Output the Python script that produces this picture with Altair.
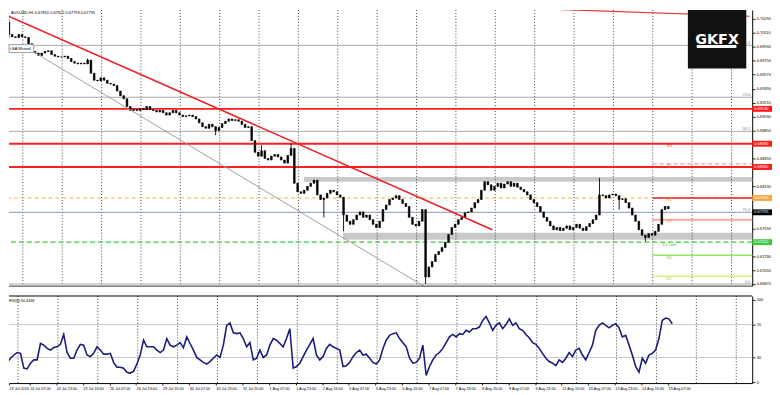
import json
import altair as alt
import pandas as pd

# ---------------- data ----------------
# AUDUSD H1, one value per 2 hourly bars, starting 23 Jul 15:00
closes = [
    0.7009, 0.7006, 0.7005, 0.7009, 0.7006, 0.7005, 0.6997, 0.6987, 0.6985, 0.6982,
    0.6985, 0.6987, 0.6988, 0.6983, 0.6981, 0.6980, 0.6980, 0.6981, 0.6978, 0.6974,
    0.6972, 0.6971, 0.6972, 0.6971, 0.6976, 0.6959, 0.6950, 0.6949, 0.6953, 0.6950,
    0.6946, 0.6945, 0.6943, 0.6936, 0.6930, 0.6926, 0.6916, 0.6911, 0.6912, 0.6911,
    0.6913, 0.6912, 0.6916, 0.6912, 0.6911, 0.6909, 0.6911, 0.6908, 0.6905, 0.6908,
    0.6911, 0.6908, 0.6905, 0.6903, 0.6904, 0.6905, 0.6903, 0.6900, 0.6895, 0.6890,
    0.6888, 0.6893, 0.6890, 0.6885, 0.6889, 0.6894, 0.6897, 0.6900, 0.6898, 0.6899,
    0.6897, 0.6893, 0.6889, 0.6890, 0.6872, 0.6857, 0.6852, 0.6859, 0.6849, 0.6847,
    0.6852, 0.6854, 0.6851, 0.6847, 0.6843, 0.6853, 0.6862, 0.6817, 0.6806, 0.6804,
    0.6808, 0.6813, 0.6817, 0.6821, 0.6802, 0.6796, 0.6798, 0.6804, 0.6808, 0.6806,
    0.6802, 0.6799, 0.6776, 0.6768, 0.6764, 0.6770, 0.6776, 0.6780, 0.6773, 0.6776,
    0.6770, 0.6764, 0.6760, 0.6768, 0.6783, 0.6789, 0.6796, 0.6798, 0.6801, 0.6796,
    0.6791, 0.6787, 0.6773, 0.6764, 0.6762, 0.6768, 0.6783, 0.6696, 0.6709, 0.6716,
    0.6725, 0.6729, 0.6734, 0.6741, 0.6751, 0.6760, 0.6764, 0.6770, 0.6773, 0.6779,
    0.6780, 0.6785, 0.6792, 0.6796, 0.6808, 0.6819, 0.6815, 0.6808, 0.6813, 0.6817,
    0.6811, 0.6816, 0.6819, 0.6813, 0.6817, 0.6812, 0.6809, 0.6806, 0.6802, 0.6796,
    0.6792, 0.6787, 0.6780, 0.6773, 0.6768, 0.6762, 0.6757, 0.6760, 0.6756, 0.6759,
    0.6762, 0.6757, 0.6760, 0.6764, 0.6759, 0.6756, 0.6761, 0.6765, 0.6770, 0.6776,
    0.6802, 0.6801, 0.6798, 0.6802, 0.6803, 0.6801, 0.6796, 0.6797, 0.6792, 0.6785,
    0.6776, 0.6768, 0.6757, 0.6750, 0.6747, 0.6752, 0.6750, 0.6755, 0.6764, 0.6783,
    0.6787, 0.6784,
]
first_open = 0.7025
wick_hi = {0: 0.7029, 24: 0.6978, 77: 0.6866, 86: 0.6868, 180: 0.6824}
wick_lo = {0: 0.7004, 63: 0.6879, 96: 0.6773, 102: 0.6755, 127: 0.6687,
           186: 0.6783, 194: 0.6742}

rsi8 = [
    42, 24, 29, 33, 36, 35, 17, 16, 23, 27,
    27, 47, 45, 41, 39, 42, 43, 46, 58, 36,
    29, 29, 39, 46, 45, 33, 31, 35, 43, 39,
    34, 34, 35, 24, 18, 18, 17, 12, 11, 13,
    22, 33, 51, 43, 43, 43, 39, 36, 39, 53,
    45, 43, 45, 48, 42, 55, 47, 39, 30, 27,
    24, 22, 25, 29, 33, 30, 45, 69, 72, 60,
    59, 60, 53, 43, 48, 27, 29, 39, 30, 33,
    45, 53, 51, 47, 43, 53, 65, 17, 19, 23,
    31, 39, 46, 53, 33, 27, 31, 41, 46, 43,
    41, 39, 19, 20, 24, 31, 36, 39, 33, 34,
    29, 24, 22, 27, 41, 51, 57, 59, 60, 53,
    48, 43, 29, 23, 24, 29, 45, 8, 19, 27,
    33, 36, 41, 48, 55, 58, 55, 59, 58, 63,
    61, 65, 65, 67, 75, 80, 72, 63, 69, 72,
    65, 70, 77, 69, 72, 65, 63, 58, 54, 48,
    46, 41, 35, 29, 25, 23, 20, 27, 24, 29,
    36, 31, 39, 41, 33, 27, 36, 45, 63, 69,
    72, 69, 66, 69, 71, 66, 55, 57, 45, 33,
    19, 12, 29, 23, 33, 35, 39, 53, 75, 78,
    77, 71,
]

time_labels = ["23 Jul 2019", "24 Jul 07:00", "24 Jul 23:00", "25 Jul 15:00",
               "26 Jul 07:00", "26 Jul 23:00", "29 Jul 15:00", "30 Jul 07:00",
               "30 Jul 23:00", "31 Jul 15:00", "1 Aug 07:00", "1 Aug 23:00",
               "2 Aug 15:00", "5 Aug 07:00", "5 Aug 23:00", "6 Aug 15:00",
               "7 Aug 07:00", "7 Aug 23:00", "8 Aug 15:00", "9 Aug 07:00",
               "9 Aug 23:00", "12 Aug 15:00", "13 Aug 07:00", "13 Aug 23:00",
               "14 Aug 15:00", "15 Aug 07:00"]
# price scale labels (those hidden behind the coloured level boxes are left out)
price_ticks = [0.70290, 0.70110, 0.69930, 0.69750, 0.69570, 0.69390, 0.69210,
               0.69030, 0.68850, 0.68490, 0.68130,
               0.67590, 0.67230, 0.67050, 0.66870]
rsi_ticks = [0, 30, 70, 100]
rsi_levels = [30, 70]

red_levels = [0.6913, 0.6868, 0.6838]
fib_levels = [0.6995, 0.6928, 0.6884, 0.6687]
fib_texts = ["0.0", "23.6", "38.2", "0.0"]
bid = 0.67795
orange_level = 0.6798
green_level = 0.6741
day_starts = [9, 33, 57, 81, 105, 129, 153, 177, 201, 225, 249, 273, 297,
              321, 345, 369, 393, 417, 441]
zone_start = [180.4, 204.2]
zone_low = [0.6819, 0.6744]
zone_high = [0.6825, 0.6753]
trend_red = {"i": [0, 295.2], "p": [0.7033, 0.6757]}
trend_gray = {"i": [12, 253.6], "p": [0.6991, 0.6684]}
trend_top = {"i": [246, 452], "p": [0.7048, 0.70325]}
pivot_start = 393
pivot_names = ["R2", "R1", "PP", "S1", "S2"]
pivot_prices = [0.6842, 0.6798, 0.6770, 0.6724, 0.6697]
pivot_label_names = ["R3", "R2", "R1", "PP", "D1 Low", "S1", "S2"]
pivot_label_prices = [0.6868, 0.6842, 0.6798, 0.6770, 0.6741, 0.6724, 0.6697]
box_prices = [0.6913, 0.6868, 0.6838, 0.6798, 0.67795, 0.6741]
title_text = "AUDUSD,H1  0.67810 0.67822 0.67793 0.67795"
rsi_title = "RSI(8) 66.4438"

# ---------------- layout / styles ----------------
W, HM, HR = 751, 279, 88
X0, X1 = 3.571, 450.6
P0, P1 = 0.66843, 0.70406
Q0, Q1 = -1.2, 104.8
FONT = "Liberation Sans"

xs = alt.Scale(domain=[X0, X1], nice=False, zero=False)
ys = alt.Scale(domain=[P0, P1], nice=False, zero=False)
rs = alt.Scale(domain=[Q0, Q1], nice=False, zero=False)

yax = alt.Axis(orient="right", values=price_ticks, format=".5f", labelFontSize=4,
               labelFont=FONT, labelColor="#000", tickSize=3, tickColor="#000",
               tickWidth=0.8, domainColor="#000", domainWidth=1, labelPadding=1,
               title=None, grid=False, labelOverlap=False, labelBound=False,
               labelFlush=False, zindex=0)
rax = alt.Axis(orient="right", values=rsi_ticks, labelFontSize=4, labelFont=FONT,
               labelColor="#000", tickSize=3, tickColor="#000", tickWidth=0.8,
               domainColor="#000", domainWidth=1, labelPadding=1, title=None,
               grid=False, labelOverlap=False, labelFlush=False, zindex=0)
label_expr = json.dumps(time_labels) + "[floor(datum.value / 16)]"
xax = alt.Axis(values=[X0] + [16 * k for k in range(1, len(time_labels))],
               labelExpr=label_expr, labelAlign="left", labelBaseline="top",
               labelFontSize=3.8, labelFont=FONT, labelColor="#000", labelPadding=1,
               tickSize=2, tickColor="#000", tickWidth=0.8, domainColor="#000",
               domainWidth=1, title=None, grid=False, labelOverlap=False,
               labelFlush=False, labelBound=False, zindex=0)


def XM(f):
    return alt.X(f, type="quantitative", scale=xs, axis=None)


def XR(f):
    return alt.X(f, type="quantitative", scale=xs, axis=xax)


def YM(f):
    return alt.Y(f, type="quantitative", scale=ys, axis=yax)


def YR(f):
    return alt.Y(f, type="quantitative", scale=rs, axis=rax)


# ---------------- data frames ----------------
n = len(closes)
opens = [first_open] + closes[:-1]
candles = pd.DataFrame({
    "i": [2 * g + 0.5 for g in range(n)],
    "o": opens,
    "c": closes,
})
candles["top"] = candles[["o", "c"]].max(axis=1)
candles["bot"] = candles[["o", "c"]].min(axis=1)
candles["hi"] = [max(t, wick_hi.get(g, t)) for g, t in enumerate(candles["top"])]
candles["lo"] = [min(b, wick_lo.get(g, b)) for g, b in enumerate(candles["bot"])]

rsi_df = pd.DataFrame({"i": [2 * g + 0.5 for g in range(len(rsi8))], "r": rsi8})
days_df = pd.DataFrame({"i": day_starts})
zones_df = pd.DataFrame({"i0": zone_start, "i1": [X1 + 5] * 2,
                         "p0": zone_low, "p1": zone_high})
one = pd.DataFrame({"a": [0]})


def hline(price, color, width, dash=None):
    kw = dict(color=color, strokeWidth=width, clip=True)
    if dash:
        kw["strokeDash"] = dash
    return alt.Chart(pd.DataFrame({"p": price if isinstance(price, list) else [price]})
                     ).mark_rule(**kw).encode(y=YM("p"))


def tline(d, color, width):
    return alt.Chart(pd.DataFrame(d)).mark_line(color=color, strokeWidth=width,
                                                clip=True).encode(x=XM("i"), y=YM("p"))


zones = alt.Chart(zones_df).mark_rect(color="#c9c9c9", clip=True).encode(
    x=XM("i0"), x2="i1:Q", y=YM("p0"), y2="p1:Q")
grid_m = alt.Chart(days_df).mark_rule(color="#444", strokeDash=[1, 2],
                                      strokeWidth=1, clip=True).encode(x=XM("i"))
fibs = hline(fib_levels, "#a9a9a9", 1)
fib_txt = alt.Chart(pd.DataFrame({"p": fib_levels + [bid], "t": fib_texts + ["76.4"]})
                    ).mark_text(align="right", baseline="bottom", dy=-0.5, fontSize=4,
                                font=FONT, color="#888", clip=True).encode(
    x=alt.value(W - 2), y=YM("p"), text="t:N")
bid_line = hline(bid, "#8a9aaa", 1)
orange_l = hline(orange_level, "#f6b24a", 1.2, [4, 3])
green_l = hline(green_level, "#3cc83c", 1.2, [5, 3])
red_l = hline(red_levels, "#ff1f1f", 2)

piv_df = pd.DataFrame({"i0": [pivot_start] * len(pivot_names), "i1": [X1 + 5] * len(pivot_names),
                       "p": pivot_prices, "name": pivot_names,
                       "col": ["#f0a0a8", "#e8202a", "#f8a898", "#90e860", "#c8e850"],
                       "w": [1.2, 1.5, 2, 1.5, 1.2]})
piv_dash = alt.Chart(piv_df[piv_df["name"] == "R2"]).mark_rule(
    strokeDash=[4, 3], clip=True, strokeWidth=1.2, color="#f0a0a8").encode(
    x=XM("i0"), x2="i1:Q", y=YM("p"))
piv_solid = alt.Chart(piv_df[piv_df["name"] != "R2"]).mark_rule(clip=True).encode(
    x=XM("i0"), x2="i1:Q", y=YM("p"),
    color=alt.Color("col:N", scale=None), strokeWidth=alt.StrokeWidth("w:Q", scale=None))
piv_txt = alt.Chart(pd.DataFrame({
    "i": [403] * len(pivot_label_names), "p": pivot_label_prices, "t": pivot_label_names,
    "col": ["#e03030", "#e07878", "#f08a30", "#f09060", "#3cb83c", "#6cc040", "#a8c838"]})
).mark_text(align="center", baseline="top", dy=0.5, fontSize=4, font=FONT, clip=True).encode(
    x=XM("i"), y=YM("p"), text="t:N", color=alt.Color("col:N", scale=None))

wicks = alt.Chart(candles).mark_rule(color="#000", strokeWidth=0.9, clip=True).encode(
    x=XM("i"), y=YM("hi"), y2="lo:Q")
bodies = alt.Chart(candles).mark_bar(size=1.7, color="#000", stroke="#000",
                                     strokeWidth=0.6, clip=True).encode(
    x=XM("i"), y=YM("top"), y2="bot:Q")

t_red = tline(trend_red, "#f01c24", 1.5)
t_gray = tline(trend_gray, "#a0a0a0", 1)
t_top = tline(trend_top, "#e03030", 1.2)

box_df = pd.DataFrame({"p": box_prices})
box_df["hi"] = box_df["p"] + 0.00038
box_df["lo"] = box_df["p"] - 0.00038
box_df["t"] = [f"{v:.5f}" for v in box_prices]
box_df["fill"] = ["#ff1a1a", "#ff1a1a", "#ff1a1a", "#f7a53a", "#000000", "#3cc83c"]
box_df["tc"] = ["#fff", "#fff", "#fff", "#fff", "#fff", "#fff"]
boxes = alt.Chart(box_df).mark_rect(clip=False).encode(
    x=alt.value(W), x2=alt.value(W + 20), y=YM("hi"), y2="lo:Q",
    color=alt.Color("fill:N", scale=None))
box_txt = alt.Chart(box_df).mark_text(align="left", baseline="middle", fontSize=4,
                                      font=FONT, clip=False).encode(
    x=alt.value(W + 2), y=YM("p"), text="t:N", color=alt.Color("tc:N", scale=None))

ea_box = alt.Chart(one).mark_rect(fill="white", stroke="#888", strokeWidth=0.8).encode(
    x=alt.value(0), x2=alt.value(25), y=alt.value(35), y2=alt.value(43))
ea_txt = alt.Chart(one).mark_text(text="t EA Wizard", align="left", baseline="middle",
                                  fontSize=4, font=FONT, color="#000").encode(
    x=alt.value(1), y=alt.value(39))
logo = alt.Chart(one).mark_rect(color="#111").encode(
    x=alt.value(686), x2=alt.value(745), y=alt.value(0), y2=alt.value(59))
logo_txt = alt.Chart(one).mark_text(text="GKFX", align="center", baseline="alphabetic",
                                    fontSize=14.5, fontWeight="bold", font="DejaVu Sans",
                                    color="white").encode(x=alt.value(715.5), y=alt.value(34.5))
logo_bar = alt.Chart(one).mark_rect(color="white").encode(
    x=alt.value(695), x2=alt.value(735), y=alt.value(35.5), y2=alt.value(38.5))
title = alt.Chart(one).mark_text(text=title_text, align="left", baseline="middle",
                                 fontSize=4, font=FONT, color="#000").encode(
    x=alt.value(2), y=alt.value(3.5))
bottom_border = alt.Chart(one).mark_rule(color="#333", strokeWidth=1).encode(y=alt.value(HM))

main = alt.layer(
    zones, grid_m, fibs, fib_txt, bid_line, orange_l, green_l, red_l,
    piv_dash, piv_solid, wicks, bodies, t_gray, t_red, t_top, piv_txt,
    boxes, box_txt, ea_box, ea_txt, logo, logo_bar, logo_txt, title, bottom_border,
).properties(width=W, height=HM)

grid_r = alt.Chart(days_df).mark_rule(color="#444", strokeDash=[1, 2],
                                      strokeWidth=1, clip=True).encode(x=XR("i"))
rsi_lv = alt.Chart(pd.DataFrame({"r": rsi_levels})).mark_rule(
    color="#c8c8c8", strokeWidth=1).encode(y=YR("r"))
rsi_line = alt.Chart(rsi_df).mark_line(color="#1c1c7a", strokeWidth=1.6, clip=True).encode(
    x=XR("i"), y=YR("r"))
rsi_t = alt.Chart(one).mark_text(text=rsi_title, align="left", baseline="middle",
                                 fontSize=3.8, font=FONT, color="#000").encode(
    x=alt.value(0), y=alt.value(5))
top_border = alt.Chart(one).mark_rule(color="#000", strokeWidth=1).encode(y=alt.value(0))

rsi_panel = alt.layer(grid_r, rsi_lv, rsi_line, rsi_t, top_border).properties(width=W, height=HR)

chart = alt.vconcat(main, rsi_panel, spacing=8).resolve_scale(y="independent").properties(
    padding=0, background="white"
).configure_view(stroke=None)

chart.save("out.html", embed_options={"renderer": "svg", "actions": False})
